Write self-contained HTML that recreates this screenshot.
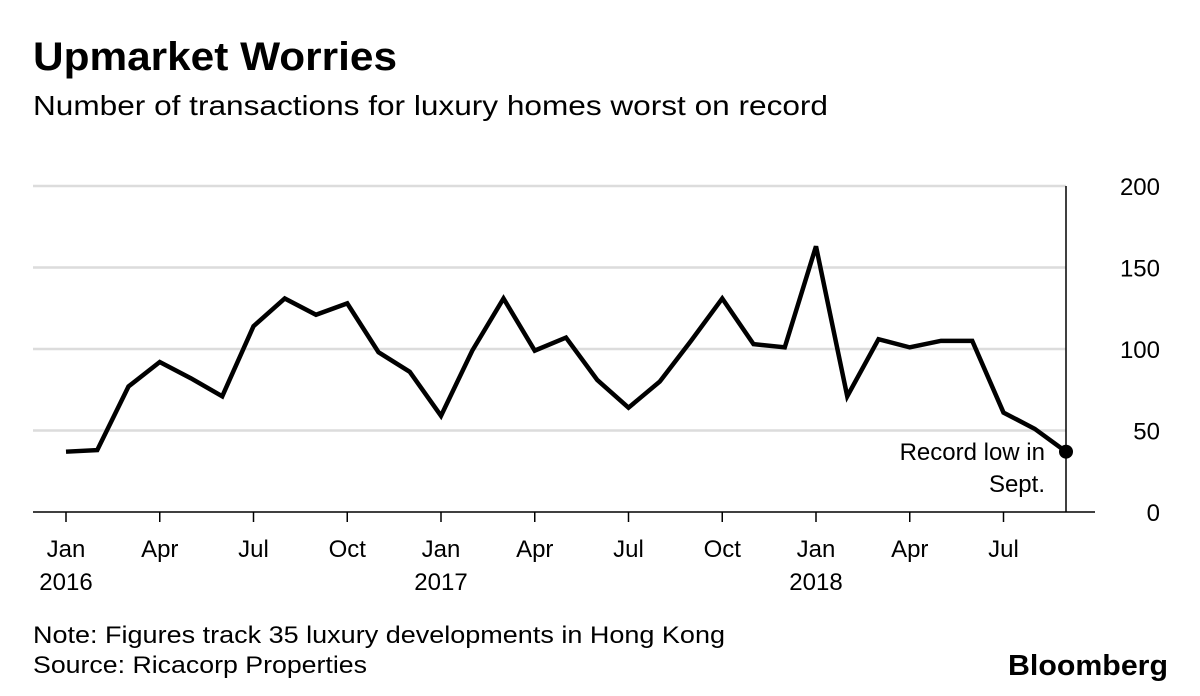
<!DOCTYPE html>
<html><head><meta charset="utf-8">
<style>
body{margin:0;background:#fff;font-family:"Liberation Sans",sans-serif;}
svg{display:block}
</style></head>
<body>
<svg id="chart" width="1200" height="696" viewBox="0 0 1200 696">
<text x="33" y="70" font-size="40" font-weight="bold" fill="#000" textLength="364" lengthAdjust="spacingAndGlyphs">Upmarket Worries</text>
<text x="33" y="115" font-size="28" fill="#000" textLength="795" lengthAdjust="spacingAndGlyphs">Number of transactions for luxury homes worst on record</text>
<g id="grid"></g>
<g id="xaxis"></g>
<g id="yaxis"></g>
<g id="series"></g>
<text x="33" y="643" font-size="24" fill="#000" textLength="692" lengthAdjust="spacingAndGlyphs">Note: Figures track 35 luxury developments in Hong Kong</text>
<text x="33" y="673" font-size="24" fill="#000" textLength="334" lengthAdjust="spacingAndGlyphs">Source: Ricacorp Properties</text>
<text x="1168" y="675" font-size="29" font-weight="bold" text-anchor="end" fill="#000" textLength="160" lengthAdjust="spacingAndGlyphs">Bloomberg</text>
</svg>
<script>
const values = [37,38,77,92,82,71,114,131,121,128,98,86,59,99,131,99,107,81,64,80,105,131,103,101,163,71,106,101,105,105,61,51,37];
const yTicks = [0,50,100,150,200];
const xTickMonths = [0,3,6,9,12,15,18,21,24,27,30];
const xTickLabels = ["Jan","Apr","Jul","Oct","Jan","Apr","Jul","Oct","Jan","Apr","Jul"];
const yearLabels = [["2016",0],["2017",12],["2018",24]];
const NS="http://www.w3.org/2000/svg";
const x = i => 66 + i*31.25;
const y = v => 512 - v*1.63;
function mk(tag, attrs, parent){const e=document.createElementNS(NS,tag);for(const k in attrs)e.setAttribute(k,attrs[k]);parent.appendChild(e);return e;}
const grid=document.getElementById('grid'), xa=document.getElementById('xaxis'), ya=document.getElementById('yaxis'), se=document.getElementById('series');
yTicks.forEach(t=>{
  if(t>0){const l=mk('line',{x1:33,x2:1066,y1:y(t),y2:y(t),stroke:'#dcdcdc','stroke-width':2.5},grid);
  
  }
  const tx=mk('text',{x:1160,y:y(t)+9,'font-size':24,'text-anchor':'end',fill:'#000'},ya);
  tx.textContent=t;
  
  
});
const ax=mk('line',{x1:33,x2:1095,y1:512,y2:512,stroke:'#000','stroke-width':1.5},xa);


const vl=mk('line',{x1:x(32),x2:x(32),y1:186,y2:512,stroke:'#000','stroke-width':1.5},xa);


xTickMonths.forEach((m,i)=>{
  const tk=mk('line',{x1:x(m),x2:x(m),y1:512,y2:522,stroke:'#000','stroke-width':1.5},xa);
  
  
  const t=mk('text',{x:x(m),y:557,'font-size':24,'text-anchor':'middle',fill:'#000'},xa);
  t.textContent=xTickLabels[i];
  
  
});
yearLabels.forEach(([lab,m])=>{
  const t=mk('text',{x:x(m),y:590,'font-size':24,'text-anchor':'middle',fill:'#000'},xa);
  t.textContent=lab;
  
  
});
const p=mk('polyline',{points:values.map((v,i)=>x(i)+','+y(v)).join(' '),fill:'none',stroke:'#000','stroke-width':4.5,'stroke-linejoin':'miter'},se);


const last=values.length-1;
const d=mk('circle',{cx:x(last),cy:y(values[last]),r:7,fill:'#000'},se);


const a1=mk('text',{x:1045,y:460,'font-size':24,'text-anchor':'end',fill:'#000'},se);
a1.textContent='Record low in';


const a2=mk('text',{x:1045,y:492,'font-size':24,'text-anchor':'end',fill:'#000'},se);
a2.textContent='Sept.';


</script>
</body></html>
